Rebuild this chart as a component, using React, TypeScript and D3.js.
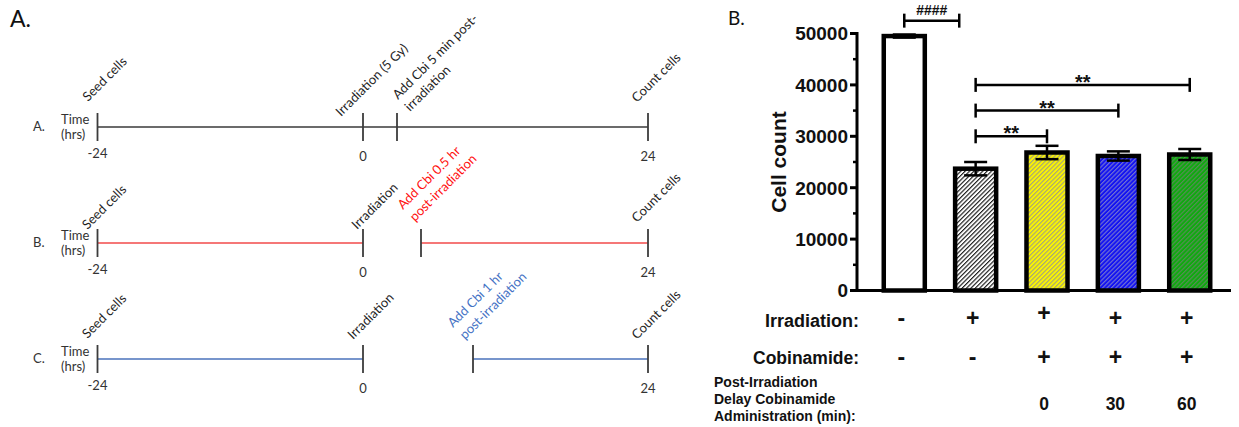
import React from "react";
import * as d3 from "d3";

// ---- panel B data (bar chart) ----
const groups = ["Control", "IR", "IR + Cbi 0", "IR + Cbi 30", "IR + Cbi 60"];
const meanCount = [49500, 23700, 26850, 26170, 26460];
const semCount = [300, 1300, 1300, 900, 1070];
const yTickValues = [0, 10000, 20000, 30000, 40000, 50000];
const yMinorValues = [5000, 15000, 25000, 35000, 45000];
const irradiationRow = ["-", "+", "+", "+", "+"];
const cobinamideRow = ["-", "-", "+", "+", "+"];
const delayRow = ["", "", "0", "30", "60"];
const brackets = [
  { from: 0, to: 0.77, level: 52500, label: "####" },
  { from: 1, to: 4, level: 40000, label: "**" },
  { from: 1, to: 3, level: 35000, label: "**" },
  { from: 1, to: 2, level: 30000, label: "**" },
];

// ---- panel A data (timelines) ----
const timelineRows = ["A.", "B.", "C."];
const cbiDelayHours = [5 / 60, 0.5, 1];
const irradiationLabels = ["Irradiation (5 Gy)", "Irradiation", "Irradiation"];
const cbiLabelLines = [
  ["Add Cbi 5 min post-", "irradiation"],
  ["Add Cbi 0.5 hr", "post-irradiation"],
  ["Add Cbi 1 hr", "post-irradiation"],
];
const timelineSegments = [
  [[-24, 24]],
  [[-24, 0], [0.5, 24]],
  [[-24, 0], [1, 24]],
];
const timeTickHours = [-24, 0, 24];
const timeTickLabels = ["-24", "0", "24"];

// styles
const barFills = ["#ffffff", "url(#hatchBlack)", "url(#hatchYellow)", "url(#hatchBlue)", "url(#hatchGreen)"];
const lineColors = ["#3a3a3a", "#f24a4a", "#4a72bb"];
const cbiColors = ["#1e1e1e", "#ff1010", "#4472c4"];
const labelOffsets = [
  { seed: [-9.5, -25], irr: [-22, -10], cbi: [1, -27], count: [-11, -24] },
  { seed: [-10, -13], irr: [-6, -13], cbi: [-18, -33], count: [-11, -20] },
  { seed: [-10, -20], irr: [-10, -19], cbi: [-20, -31], count: [-11, -19] },
];

const ARIAL = "'Liberation Sans', Arial, sans-serif";
const CAL = "Lato, 'Open Sans', sans-serif";

function Timelines() {
  const t = d3.scaleLinear()
    .domain([-24, 0, 5 / 60, 0.5, 1, 24])
    .range([97.5, 363, 397, 421, 473, 648]);
  const rowY = d3.scalePoint().domain(timelineRows).range([127, 359]);

  const rotLabel = (x, y, lines, color, key) => (
    <text key={key} transform={`translate(${x},${y}) rotate(-45)`} fontFamily={CAL} fontSize={13} fill={color}>
      {lines.map((l, i) => (
        <tspan key={i} x={0} dy={i === 0 ? 0 : 17}>{l}</tspan>
      ))}
    </text>
  );

  return (
    <g>
      <text x={10} y={27} fontFamily={CAL} fontSize={23} fill="#111">A.</text>
      {timelineRows.map((row, r) => {
        const y = rowY(row);
        const delay = cbiDelayHours[r];
        const ticks = [-24, 0, delay, 24];
        const off = labelOffsets[r];
        return (
          <g key={row}>
            <text x={33} y={y + 4} fontFamily={CAL} fontSize={13} fill="#333">{row}</text>
            <text x={61} y={y - 3} fontFamily={CAL} fontSize={13} fill="#333">Time</text>
            <text x={61} y={y + 12} fontFamily={CAL} fontSize={13} fill="#333">(hrs)</text>
            {timelineSegments[r].map((s, i) => (
              <line key={i} x1={t(s[0])} x2={t(s[1])} y1={y} y2={y} stroke={lineColors[r]} strokeWidth={1.6} />
            ))}
            {ticks.map((h, i) => (
              <line key={i} x1={t(h)} x2={t(h)} y1={y - 14} y2={y + 14} stroke="#3c3c3c" strokeWidth={1.8} />
            ))}
            {timeTickHours.map((h, i) => (
              <text key={i} x={t(h)} y={y + (h < 0 ? 31 : 34)} textAnchor="middle" fontFamily={CAL} fontSize={13} fill="#333">
                {timeTickLabels[i]}
              </text>
            ))}
            {rotLabel(t(-24) + off.seed[0], y + off.seed[1], ["Seed cells"], "#1e1e1e", "s")}
            {rotLabel(t(0) + off.irr[0], y + off.irr[1], [irradiationLabels[r]], "#1e1e1e", "i")}
            {rotLabel(t(delay) + off.cbi[0], y + off.cbi[1], cbiLabelLines[r], cbiColors[r], "c")}
            {rotLabel(t(24) + off.count[0], y + off.count[1], ["Count cells"], "#1e1e1e", "n")}
          </g>
        );
      })}
    </g>
  );
}

function BarChart() {
  const x = d3.scaleBand().domain(groups).range([857, 1237]).paddingInner(0.425).paddingOuter(0.375);
  const y = d3.scaleLinear().domain([0, 50000]).range([290.5, 33.5]);
  const cx = (i) => x(groups[i]) + x.bandwidth() / 2;
  const cxf = (f) => {
    const i = Math.floor(f);
    return i >= groups.length - 1 ? cx(i) : cx(i) + (f - i) * x.step();
  };
  const axisX = x.range()[0];
  const capW = 23;
  const colX = (i) => cx(i) - 3;

  return (
    <g fontFamily={ARIAL} fontWeight="bold" fill="#111">
      <text x={728} y={25} fontFamily={CAL} fontWeight="normal" fontSize={19}>B.</text>
      {groups.map((g, i) => {
        const bx = x(g);
        const top = y(meanCount[i]);
        return (
          <g key={g}>
            <rect x={bx} y={top} width={x.bandwidth()} height={y(0) - top} fill={barFills[i]} stroke="#000" strokeWidth={4.5} />
            <line x1={cx(i)} x2={cx(i)} y1={y(meanCount[i] + semCount[i])} y2={y(meanCount[i] - semCount[i])} stroke="#000" strokeWidth={2.5} />
            <line x1={cx(i) - capW / 2} x2={cx(i) + capW / 2} y1={y(meanCount[i] + semCount[i])} y2={y(meanCount[i] + semCount[i])} stroke="#000" strokeWidth={2.5} />
            <line x1={cx(i) - capW / 2} x2={cx(i) + capW / 2} y1={y(meanCount[i] - semCount[i])} y2={y(meanCount[i] - semCount[i])} stroke="#000" strokeWidth={2.5} />
          </g>
        );
      })}
      {/* axes */}
      <line x1={axisX} x2={axisX} y1={y(0) + 1.5} y2={y(50000) - 1.5} stroke="#000" strokeWidth={3} />
      <line x1={axisX - 1.5} x2={1231} y1={y(0)} y2={y(0)} stroke="#000" strokeWidth={3} />
      {yTickValues.map((v) => (
        <g key={v}>
          <line x1={axisX - 7} x2={axisX} y1={y(v)} y2={y(v)} stroke="#000" strokeWidth={3} />
          <text x={axisX - 9} y={y(v) + 6.8} textAnchor="end" fontSize={19}>{v}</text>
        </g>
      ))}
      {yMinorValues.map((v) => (
        <line key={v} x1={axisX - 4} x2={axisX} y1={y(v)} y2={y(v)} stroke="#000" strokeWidth={2.5} />
      ))}
      <text transform={`translate(786,${(y(0) + y(50000)) / 2}) rotate(-90)`} textAnchor="middle" fontSize={21}>Cell count</text>
      {/* significance */}
      {brackets.map((b, i) => {
        const x1 = cxf(b.from), x2 = cxf(b.to), by = y(b.level);
        const star = b.label === "**";
        return (
          <g key={i}>
            <line x1={x1} x2={x2} y1={by} y2={by} stroke="#000" strokeWidth={2.5} />
            <line x1={x1} x2={x1} y1={by - 7} y2={by + 7} stroke="#000" strokeWidth={2.5} />
            <line x1={x2} x2={x2} y1={by - 7} y2={by + 7} stroke="#000" strokeWidth={2.5} />
            <text x={(x1 + x2) / 2} y={star ? by + 4 : by - 5.5} textAnchor="middle" fontSize={star ? 20 : 14}>{b.label}</text>
          </g>
        );
      })}
      {/* treatment table */}
      <text x={859} y={327} textAnchor="end" fontSize={18}>Irradiation:</text>
      <text x={859} y={364} textAnchor="end" fontSize={17.5}>Cobinamide:</text>
      <text x={714} y={387} fontSize={14}>Post-Irradiation</text>
      <text x={714} y={404} fontSize={14}>Delay Cobinamide</text>
      <text x={714} y={421} fontSize={14}>Administration (min):</text>
      {irradiationRow.map((s, i) => (
        <text key={i} x={colX(i)} y={i === 2 ? 321 : 326} textAnchor="middle" fontSize={23}>{s}</text>
      ))}
      {cobinamideRow.map((s, i) => (
        <text key={i} x={colX(i)} y={365} textAnchor="middle" fontSize={23}>{s}</text>
      ))}
      {delayRow.map((s, i) => (
        <text key={i} x={colX(i)} y={410} textAnchor="middle" fontSize={17.5}>{s}</text>
      ))}
    </g>
  );
}

function Hatch({ id, bg, stroke }) {
  return (
    <pattern id={id} patternUnits="userSpaceOnUse" width={3.1} height={3.1} patternTransform="rotate(45)">
      <rect width={3.1} height={3.1} fill={bg} />
      <line x1={0.6} x2={0.6} y1={0} y2={3.1} stroke={stroke} strokeWidth={1.1} />
    </pattern>
  );
}

export default function App() {
  return (
    <svg width={1239} height={427} style={{ position: "absolute", left: 0, top: 0, background: "#fff" }}>
      <defs>
        <Hatch id="hatchBlack" bg="#ffffff" stroke="#111" />
        <Hatch id="hatchYellow" bg="#fbf500" stroke="#a0a080" />
        <Hatch id="hatchBlue" bg="#1212f2" stroke="#7878d0" />
        <Hatch id="hatchGreen" bg="#0eaa0e" stroke="#5c8a5c" />
      </defs>
      <rect width={1239} height={427} fill="#fff" />
      <Timelines />
      <BarChart />
    </svg>
  );
}
